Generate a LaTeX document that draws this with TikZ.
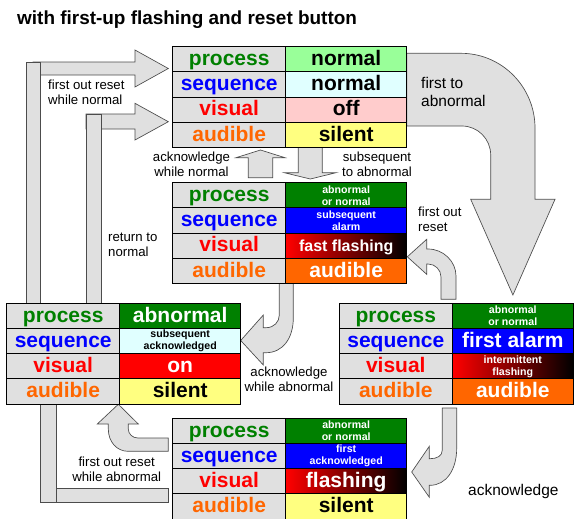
\documentclass[tikz,border=0pt]{standalone}
\usepackage{fontspec}
\setmainfont{Liberation Sans}
\definecolor{cellgray}{HTML}{E0E0E0}
\definecolor{procgreen}{HTML}{008000}
\definecolor{seqblue}{HTML}{0000FF}
\definecolor{visred}{HTML}{FF0000}
\definecolor{audorange}{HTML}{FF6600}
\definecolor{okgreen}{HTML}{99FF99}
\definecolor{okcyan}{HTML}{E0FFFF}
\definecolor{offpink}{HTML}{FFCCCC}
\definecolor{quietyellow}{HTML}{FFFF80}
\begin{document}
\begin{tikzpicture}[x=0.75pt,y=-0.75pt,
          lbl/.style={draw,line width=0.75pt,fill=cellgray,minimum width=84.75pt,minimum height=18.9pt,inner sep=0pt,text height=13.4pt,text depth=4pt,font=\fontsize{15.75}{18}\selectfont\bfseries},
          val/.style={draw,line width=0.75pt,minimum width=90.75pt,minimum height=18.9pt,inner sep=0pt,text height=13.4pt,text depth=4pt,font=\fontsize{15.75}{18}\selectfont\bfseries},
          smalltxt/.style={text height=,text depth=,font=\fontsize{7.95}{9}\selectfont\bfseries,align=center},
          midtxt/.style={text height=11.5pt,text depth=3.4pt,font=\fontsize{12}{14}\selectfont\bfseries},
          flash/.style={left color=red,middle color=red!45!black,right color=black,text=white},
          barrow/.style={draw=black!70,fill=cellgray,line width=0.5pt},
          note/.style={font=\fontsize{9.9}{11.25}\selectfont,align=center},
          bignote/.style={font=\fontsize{11.6}{13.1}\selectfont,align=left}]

          \useasboundingbox (0,0) rectangle (574,518);

          \node[anchor=west,font=\fontsize{14.2}{16}\selectfont\bfseries] (title) at (12.5,20) {with first-up flashing and reset button};

          \draw[barrow] (33,62) -- (135,62) -- (135,50) -- (168.3,68.5) -- (135,87) -- (135,75) -- (33,75) -- cycle;
          \draw[barrow] (26,62) rectangle (40.3,303.3);
          \draw[barrow] (86,114) -- (135,114) -- (135,103.3) -- (168.3,121.7) -- (135,140) -- (135,129) -- (86,129) -- cycle;
          \draw[barrow] (86.7,114) rectangle (101.3,303.3);

          \draw[barrow] (248.3,177.7) -- (248.3,157.7) -- (236,157.7) -- (260.5,150) -- (285,157.7) -- (272.7,157.7) -- (272.7,177.7) -- cycle;
          \draw[barrow] (298.3,147.3) -- (322.3,147.3) -- (322.3,172.7) -- (336,172.7) -- (310.3,179) -- (284.3,172.7) -- (298.3,172.7) -- cycle;

          \draw[barrow] (406.7,53.3) -- (461,53.3) .. controls (501.8,53.3) and (535,86.8) .. (535,128) -- (535,199.3) -- (555,199.3) -- (512.9,295) -- (470.7,199.3) -- (490.7,199.3) -- (490.7,155) .. controls (490.7,139) and (477.8,126) .. (462,126) -- (406.7,126) -- cycle;

          \draw[barrow] (441,299.3) -- (441,277) .. controls (441,269.8) and (435.2,264) .. (428,264) -- (426.7,264) -- (426.7,274.3) -- (407.3,256.8) -- (426.7,239.3) -- (426.7,249) -- (428,249) .. controls (443.5,249) and (456,261.5) .. (456,276) -- (456,299.3) -- cycle;

          \draw[barrow] (279.3,283.3) -- (293.3,283.3) -- (293.3,318) .. controls (293.3,338) and (283,352.7) .. (266,352.7) -- (263.3,352.7) -- (263.3,365) -- (240.7,340.5) -- (263.3,315) -- (263.3,327.7) -- (266,327.7) .. controls (274,327.7) and (279.3,322) .. (279.3,315) -- cycle;

          \draw[barrow] (442.3,408) -- (456.7,408) -- (456.7,448) .. controls (456.7,470) and (446,485.3) .. (430,485.3) -- (429.3,485.3) -- (429.3,497.3) -- (411.7,472) -- (429.3,446.3) -- (429.3,458.7) -- (430,458.7) .. controls (437,458.7) and (442.3,456) .. (442.3,450) -- cycle;

          \draw[barrow] (168.3,438) -- (138,438) .. controls (132.5,438) and (128.3,434) .. (128.3,429) -- (128.3,424) -- (138.3,424) -- (118.3,404.3) -- (97.3,424) -- (108.3,424) -- (108.3,429) .. controls (108.3,442) and (117,451.3) .. (128,451.3) -- (168.3,451.3) -- cycle;
          \draw[barrow] (40.7,404.3) rectangle (56,502.7);
          \draw[barrow] (56,488.3) rectangle (168.3,502.7);

          \node[lbl,text=procgreen] (top1) at (229.2,59.3) {process};
          \node[lbl,text=seqblue] (top2) at (229.2,84.5) {sequence};
          \node[lbl,text=visred] (top3) at (229.2,109.7) {visual};
          \node[lbl,text=audorange] (top4) at (229.2,134.9) {audible};
          \node[val,fill=okgreen] (top1v) at (346.2,59.3) {normal};
          \node[val,fill=okcyan] (top2v) at (346.2,84.5) {normal};
          \node[val,fill=offpink] (top3v) at (346.2,109.7) {off};
          \node[val,fill=quietyellow] (top4v) at (346.2,134.9) {silent};

          \node[lbl,text=procgreen] (mid1) at (229.2,195.3) {process};
          \node[lbl,text=seqblue] (mid2) at (229.2,220.5) {sequence};
          \node[lbl,text=visred] (mid3) at (229.2,245.7) {visual};
          \node[lbl,text=audorange] (mid4) at (229.2,270.9) {audible};
          \node[val,fill=procgreen,text=white,smalltxt] (mid1v) at (346.2,195.3) {abnormal\\or normal};
          \node[val,fill=seqblue,text=white,smalltxt] (mid2v) at (346.2,220.5) {subsequent\\alarm};
          \node[val,flash,midtxt] (mid3v) at (346.2,245.7) {fast flashing};
          \node[val,fill=audorange,text=white] (mid4v) at (346.2,270.9) {audible};

          \node[lbl,text=procgreen] (lft1) at (63.2,315.9) {process};
          \node[lbl,text=seqblue] (lft2) at (63.2,341.1) {sequence};
          \node[lbl,text=visred] (lft3) at (63.2,366.3) {visual};
          \node[lbl,text=audorange] (lft4) at (63.2,391.5) {audible};
          \node[val,fill=procgreen,text=white] (lft1v) at (180.2,315.9) {abnormal};
          \node[val,fill=okcyan,smalltxt] (lft2v) at (180.2,341.1) {subsequent\\acknowledged};
          \node[val,fill=visred,text=white] (lft3v) at (180.2,366.3) {on};
          \node[val,fill=quietyellow] (lft4v) at (180.2,391.5) {silent};

          \node[lbl,text=procgreen] (rgt1) at (395.8,315.9) {process};
          \node[lbl,text=seqblue] (rgt2) at (395.8,341.1) {sequence};
          \node[lbl,text=visred] (rgt3) at (395.8,366.3) {visual};
          \node[lbl,text=audorange] (rgt4) at (395.8,391.5) {audible};
          \node[val,fill=procgreen,text=white,smalltxt] (rgt1v) at (512.8,315.9) {abnormal\\or normal};
          \node[val,fill=seqblue,text=white] (rgt2v) at (512.8,341.1) {first alarm};
          \node[val,flash,smalltxt] (rgt3v) at (512.8,366.3) {intermittent\\flashing};
          \node[val,fill=audorange,text=white] (rgt4v) at (512.8,391.5) {audible};

          \node[lbl,text=procgreen] (bot1) at (229.2,430.9) {process};
          \node[lbl,text=seqblue] (bot2) at (229.2,456.1) {sequence};
          \node[lbl,text=visred] (bot3) at (229.2,481.3) {visual};
          \node[lbl,text=audorange] (bot4) at (229.2,506.5) {audible};
          \node[val,fill=procgreen,text=white,smalltxt] (bot1v) at (346.2,430.9) {abnormal\\or normal};
          \node[val,fill=seqblue,text=white,smalltxt] (bot2v) at (346.2,456.1) {first\\acknowledged};
          \node[val,flash] (bot3v) at (346.2,481.3) {flashing};
          \node[val,fill=quietyellow] (bot4v) at (346.2,506.5) {silent};

          \node[note,align=left,anchor=west] (resetok) at (43.5,92) {first out reset\\while normal};
          \node[note,align=left,anchor=west] (backok) at (103.5,245) {return to\\normal};
          \node[note] (ackok) at (191.5,164.2) {acknowledge\\while normal};
          \node[note] (subab) at (377,164.2) {subsequent\\to abnormal};
          \node[bignote,anchor=west] (firstab) at (416.5,92) {first to\\abnormal};
          \node[note,align=left,anchor=west] (resetfirst) at (413.5,219.2) {first out\\reset};
          \node[note] (ackab) at (289,379.2) {acknowledge\\while abnormal};
          \node[note] (resetab) at (116.7,469.3) {first out reset\\while abnormal};
          \node[bignote,anchor=west] (ack) at (463.5,491) {acknowledge};

      \end{tikzpicture}
\end{document}
